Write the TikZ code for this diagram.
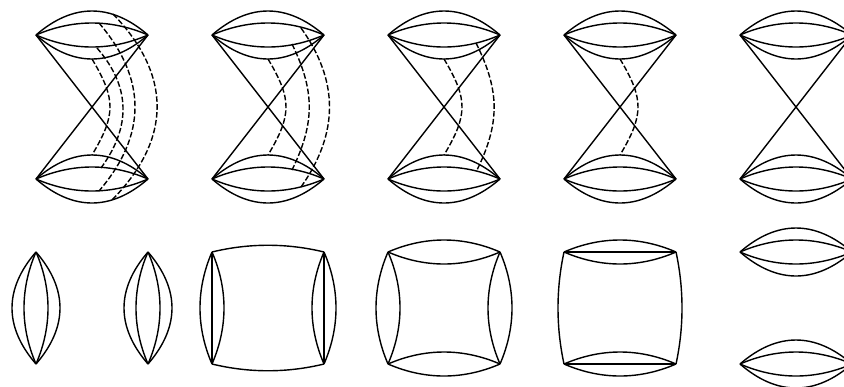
\documentclass[tikz,border=0pt]{standalone}
\usepackage{tikz}
\usetikzlibrary{calc}
\tikzset{
  arcline/.style={black, line width=0.8pt},
  dashline/.style={black, line width=0.8pt, dash pattern=on 3.2pt off 1.3pt}
}
% arcs across a side of length 112, #3 pushes the control points sideways
\newcommand{\arcH}[3]{\draw[arcline] (#1,#2) .. controls +(37,#3) and +(-37,#3) .. (#1+112,#2);}
\newcommand{\arcV}[3]{\draw[arcline] (#1,#2) .. controls +(#3,37) and +(#3,-37) .. (#1,#2+112);}
\newcommand{\dashA}[6]{\draw[dashline] (#1,#2) .. controls (#5,107-#6) and (#5,107+#6) .. (#3,#4);}

\begin{document}
\begin{tikzpicture}[x=0.02cm,y=-0.02cm]
        \clip (0,0) rectangle (844,386);
        % upper row: two lenses joined by a cross
        \foreach \cx in {36,212,388,564,740} {
          \foreach \cy in {35,179} {
            \arcH{\cx}{\cy}{-32}
            \arcH{\cx}{\cy}{-16}
            \arcH{\cx}{\cy}{16}
            \arcH{\cx}{\cy}{32}
          }
          \draw[arcline] (\cx,35)--(\cx+112,179);
          \draw[arcline] (\cx+112,35)--(\cx,179);
        }
        % geodesics through the neck
        \foreach \cx in {0,176,352,528} {
          \dashA{\cx+92}{59}{\cx+92}{155}{\cx+116}{8}
        }
        \dashA{97}{48}{101}{168}{131}{20}
        \dashA{99}{23}{99}{191}{147}{28}
        \dashA{113}{14}{112}{200}{172}{32}
        \dashA{292}{44}{292}{170}{315}{16}
        \dashA{301}{28}{301}{187}{339}{26}
        \dashA{476}{43}{477}{170}{500}{16}
        % lower row
        \foreach \cx in {36,148} {
          \arcV{\cx}{252}{-32}
          \arcV{\cx}{252}{-16}
          \arcV{\cx}{252}{16}
          \arcV{\cx}{252}{32}
        }
        \arcV{212}{252}{-16}
        \arcV{212}{252}{0}
        \arcV{212}{252}{16}
        \arcV{324}{252}{-16}
        \arcV{324}{252}{0}
        \arcV{324}{252}{16}
        \arcH{212}{252}{-9}
        \arcH{212}{364}{9}
        \arcV{388}{252}{-16}
        \arcV{388}{252}{16}
        \arcV{500}{252}{-16}
        \arcV{500}{252}{16}
        \arcH{388}{252}{-16}
        \arcH{388}{252}{16}
        \arcH{388}{364}{-16}
        \arcH{388}{364}{16}
        \arcH{564}{252}{-16}
        \arcH{564}{252}{0}
        \arcH{564}{252}{16}
        \arcH{564}{364}{-16}
        \arcH{564}{364}{0}
        \arcH{564}{364}{16}
        \arcV{564}{252}{-8}
        \arcV{676}{252}{8}
        \foreach \cy in {252,364} {
          \arcH{740}{\cy}{-32}
          \arcH{740}{\cy}{-16}
          \arcH{740}{\cy}{16}
          \arcH{740}{\cy}{32}
        }
      \end{tikzpicture}
\end{document}
